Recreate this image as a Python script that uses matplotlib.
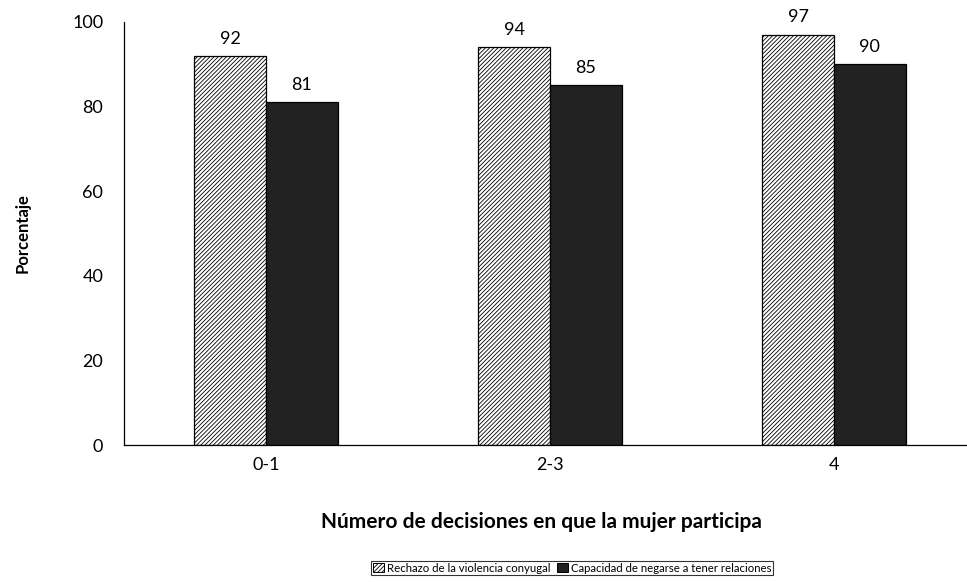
import numpy as np
import matplotlib.pyplot as plt
from matplotlib.patches import Patch

plt.rcParams['font.family'] = ['Lato', 'DejaVu Sans']
plt.rcParams['hatch.linewidth'] = 0.6
plt.rcParams['hatch.color'] = '#404040'

categories = ['0-1', '2-3', '4']
rechazo = [92, 94, 97]
capacidad = [81, 85, 90]
series_names = ['Rechazo de la violencia conyugal', 'Capacidad de negarse a tener relaciones']

fig = plt.figure(figsize=(9.67, 5.82), dpi=100)
# plot area runs past the right edge of the picture, as in the original
ax_w = 3 * 284
ax = fig.add_axes([124 / 967, 1 - 445 / 582, ax_w / 967, 423 / 582])

x = np.arange(len(categories))
w = 0.253
b1 = ax.bar(x - w / 2, rechazo, w, facecolor='white', edgecolor='black', hatch='////////', linewidth=0.9)
b2 = ax.bar(x + w / 2, capacidad, w, facecolor='#222222', edgecolor='black', linewidth=0.9)

for bars, vals in ((b1, rechazo), (b2, capacidad)):
    for r, v in zip(bars, vals):
        ax.text(r.get_x() + r.get_width() / 2, v + 2.2, str(v), ha='center', va='bottom', fontsize=13)

ax.set_xlim(-0.5, 2.5)
ax.set_ylim(0, 100)
ax.set_yticks([0, 20, 40, 60, 80, 100])
ax.set_xticks(x)
ax.set_xticklabels(categories)
ax.tick_params(axis='both', length=0, labelsize=13)
ax.tick_params(axis='y', pad=15)
ax.tick_params(axis='x', pad=9)
for s in ['top', 'right']:
    ax.spines[s].set_visible(False)
ax.spines['left'].set_linewidth(0.9)
ax.spines['bottom'].set_linewidth(0.9)

ax.set_ylabel('Porcentaje', fontsize=12, fontweight='bold', labelpad=30)
ax.set_xlabel('Número de decisiones en que la mujer participa', fontsize=15, fontweight='bold')
ax.xaxis.set_label_coords((541 - 124) / ax_w, -(512 - 445) / 423)

handles = [Patch(facecolor='white', edgecolor='black', hatch='////////', linewidth=0.7),
           Patch(facecolor='#222222', edgecolor='black', linewidth=0.7)]
leg = fig.legend(handles, series_names, loc='center', bbox_to_anchor=(572 / 967, 1 - 568 / 582),
                 ncol=2, fontsize=8.2, frameon=True, fancybox=False, edgecolor='black',
                 handlelength=1.0, handleheight=0.8, handletextpad=0.2, columnspacing=0.6,
                 borderpad=0.15, borderaxespad=0)
leg.get_frame().set_linewidth(0.8)

fig.savefig('out.png', dpi=100)
